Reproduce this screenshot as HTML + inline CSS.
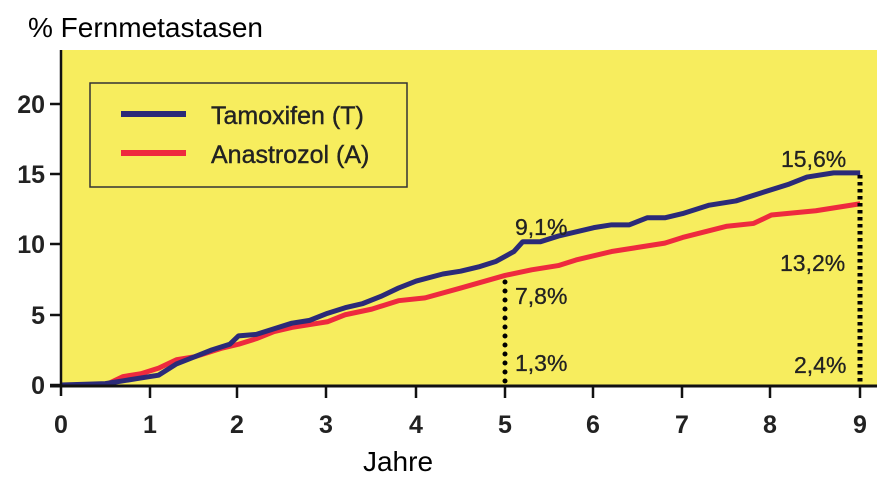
<!DOCTYPE html>
<html><head><meta charset="utf-8"><style>
html,body{margin:0;padding:0;background:#fff;width:896px;height:480px;overflow:hidden}
svg{display:block}
text{font-family:"Liberation Sans",sans-serif}
</style></head><body>
<svg width="896" height="480" viewBox="0 0 896 480">
<rect x="62" y="50" width="815" height="336" fill="#f7ed5e"/>
<rect x="90" y="83" width="317" height="104" fill="none" stroke="#333" stroke-width="1.5"/>
<line x1="121" y1="114" x2="186" y2="114" stroke="#2b2a78" stroke-width="6"/>
<line x1="121" y1="153" x2="186" y2="153" stroke="#ee2a3e" stroke-width="6"/>
<text x="211" y="124" font-size="25" fill="#222" stroke="#222" stroke-width="0.4">Tamoxifen (T)</text>
<text x="211" y="163" font-size="25" fill="#222" stroke="#222" stroke-width="0.4">Anastrozol (A)</text>
<g transform="translate(61,385) scale(88.8,-14.05)" fill="none" stroke-linejoin="round">
<polyline vector-effect="non-scaling-stroke" stroke="#ee2a3e" stroke-width="5" points="0,0 0.5,0 0.7,0.6 0.9,0.8 1.1,1.2 1.3,1.8 1.5,2.0 1.8,2.6 2,2.9 2.2,3.3 2.4,3.8 2.6,4.1 2.9,4.4 3,4.5 3.2,5 3.5,5.4 3.8,6 4.1,6.2 4.5,6.9 5,7.8 5.3,8.2 5.6,8.5 5.8,8.9 6.2,9.5 6.8,10.1 7,10.5 7.5,11.3 7.8,11.5 8,12.1 8.5,12.4 9,12.9"/>
<polyline vector-effect="non-scaling-stroke" stroke="#2b2a78" stroke-width="5" points="0,0 0.5,0.1 0.7,0.3 1,0.6 1.1,0.7 1.3,1.5 1.5,2 1.7,2.5 1.9,2.9 2,3.5 2.2,3.6 2.4,4 2.6,4.4 2.8,4.6 3,5.1 3.2,5.5 3.4,5.8 3.6,6.3 3.8,6.9 4,7.4 4.3,7.9 4.5,8.1 4.7,8.4 4.9,8.8 5.1,9.5 5.2,10.2 5.4,10.2 5.6,10.6 6,11.2 6.2,11.4 6.4,11.4 6.6,11.9 6.8,11.9 7,12.2 7.3,12.8 7.6,13.1 7.9,13.7 8.2,14.3 8.4,14.8 8.7,15.1 9,15.1"/>
</g>
<line x1="505" y1="282" x2="505" y2="385" stroke="#000" stroke-width="5" stroke-dasharray="0 9" stroke-linecap="round"/>
<line x1="860" y1="175" x2="860" y2="385" stroke="#000" stroke-width="5" stroke-dasharray="3.5 3.5"/>
<line x1="61" y1="50" x2="61" y2="396" stroke="#111" stroke-width="2.5"/>
<line x1="50" y1="386" x2="877" y2="386" stroke="#111" stroke-width="3"/>
<g stroke="#111" stroke-width="2.5">
<line x1="50" y1="385" x2="61" y2="385"/><line x1="50" y1="315" x2="61" y2="315"/><line x1="50" y1="244" x2="61" y2="244"/><line x1="50" y1="174" x2="61" y2="174"/><line x1="50" y1="104" x2="61" y2="104"/>
<line x1="150" y1="386" x2="150" y2="398"/><line x1="237" y1="386" x2="237" y2="398"/><line x1="326" y1="386" x2="326" y2="398"/><line x1="416" y1="386" x2="416" y2="398"/><line x1="505" y1="386" x2="505" y2="398"/><line x1="593" y1="386" x2="593" y2="398"/><line x1="682" y1="386" x2="682" y2="398"/><line x1="770" y1="386" x2="770" y2="398"/><line x1="860" y1="386" x2="860" y2="398"/>
</g>
<g font-size="25" font-weight="bold" fill="#222" text-anchor="end">
<text x="45" y="394">0</text><text x="45" y="324">5</text><text x="45" y="253">10</text><text x="45" y="183">15</text><text x="45" y="113">20</text>
</g>
<g font-size="25" font-weight="bold" fill="#222" text-anchor="middle">
<text x="61" y="433">0</text><text x="150" y="433">1</text><text x="237" y="433">2</text><text x="326" y="433">3</text><text x="416" y="433">4</text><text x="505" y="433">5</text><text x="593" y="433">6</text><text x="682" y="433">7</text><text x="770" y="433">8</text><text x="860" y="433">9</text>
</g>
<text x="28" y="37" font-size="28" fill="#000">% Fernmetastasen</text>
<text x="398" y="471" font-size="28" fill="#000" text-anchor="middle">Jahre</text>
<g font-size="23" fill="#222" stroke="#222" stroke-width="0.3">
<text x="515" y="235">9,1%</text>
<text x="515" y="304">7,8%</text>
<text x="515" y="371">1,3%</text>
<text x="781" y="167">15,6%</text>
<text x="780" y="271">13,2%</text>
<text x="794" y="373">2,4%</text>
</g>
</svg>
</body></html>
